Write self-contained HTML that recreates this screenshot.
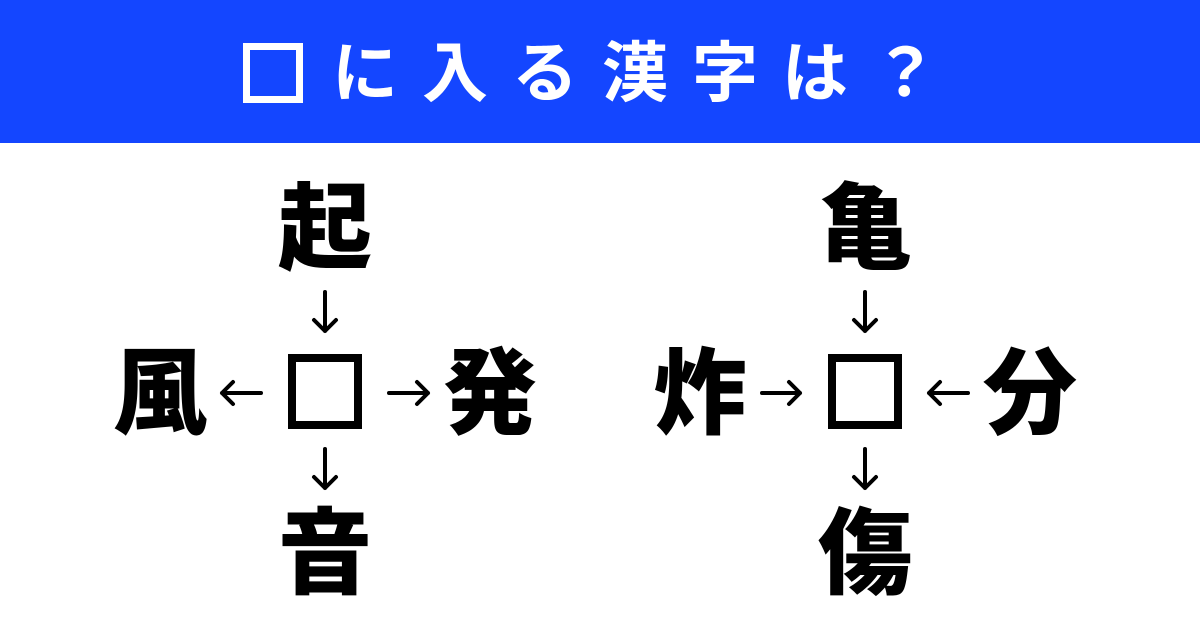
<!DOCTYPE html>
<html><head><meta charset="utf-8"><style>
body{margin:0;width:1200px;height:628px;background:#fff;position:relative;overflow:hidden;font-family:"Liberation Sans","Noto Sans CJK JP",sans-serif}
.hd{position:absolute;left:0;top:0;width:1200px;height:143px;background:#1446ff}
.t{position:absolute;top:35px;width:90px;margin-left:-45px;text-align:center;color:#fff;font-size:66px;font-weight:bold;line-height:76px}
.k{position:absolute;width:120px;margin-left:-60px;text-align:center;font-size:94px;font-weight:900;line-height:110px;color:#000}
.box{position:absolute;box-sizing:border-box;border:8px solid #000;color:transparent;font-size:10px;overflow:hidden}
</style></head><body>
<div class="hd"></div>
<div class="box" style="left:243px;top:43px;width:60px;height:60px;border-width:7px;border-color:#fff">□</div>
<div class="t" style="left:365px">に</div>
<div class="t" style="left:455px">入</div>
<div class="t" style="left:545px">る</div>
<div class="t" style="left:635px">漢</div>
<div class="t" style="left:725px">字</div>
<div class="t" style="left:815px">は</div>
<div class="t" style="left:905px">？</div>

<div class="k" style="left:325px;top:174px">起</div>
<div class="k" style="left:160px;top:339px">風</div>
<div class="k" style="left:490px;top:339px">発</div>
<div class="k" style="left:325px;top:499px">音</div>
<div class="box" style="left:288px;top:354px;width:74px;height:75px">□</div>

<div class="k" style="left:865px;top:174px">亀</div>
<div class="k" style="left:700px;top:339px">炸</div>
<div class="k" style="left:1030px;top:339px">分</div>
<div class="k" style="left:865px;top:499px">傷</div>
<div class="box" style="left:828px;top:354px;width:74px;height:75px">□</div>

<svg width="1200" height="628" style="position:absolute;left:0;top:0" fill="none" stroke="#000" stroke-width="4" stroke-linecap="round" stroke-linejoin="round">
<path d="M325 292V331M314 320L325 331L336 320"/>
<path d="M325 449V488M314 477L325 488L336 477"/>
<path d="M261 393H222M233 382L222 393L233 404"/>
<path d="M389 393H428M417 382L428 393L417 404"/>
<path d="M865 292V331M854 320L865 331L876 320"/>
<path d="M865 449V488M854 477L865 488L876 477"/>
<path d="M762 393H800M789 382L800 393L789 404"/>
<path d="M968 393H929M940 382L929 393L940 404"/>
</svg>
</body></html>
